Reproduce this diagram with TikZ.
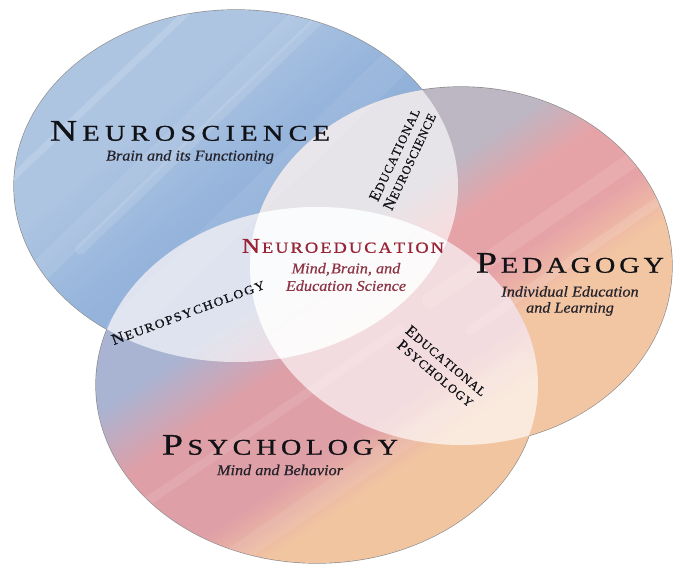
\documentclass[tikz,border=0pt]{standalone}
\usepackage{graphicx}
\usepackage{fontspec}
\setmainfont{Liberation Serif}
\newfontfamily\ttlfont{Liberation Serif}[FakeBold=0.9]
\newfontfamily\subfont{Liberation Serif Italic}[FakeBold=0.5]
\newfontfamily\lblfont{Liberation Serif}[FakeBold=0.7]
\definecolor{titlecol}{HTML}{111216}
\definecolor{subcol}{HTML}{24232B}
\definecolor{redtitle}{HTML}{982436}
\definecolor{redsub}{HTML}{8C3444}
\definecolor{nb1}{HTML}{AEC5E2}
\definecolor{nb2}{HTML}{98B6DC}
\definecolor{nb3}{HTML}{8DADD7}
\definecolor{pg}{HTML}{BDB6C3}
\definecolor{pp}{HTML}{E6A3A7}
\definecolor{po}{HTML}{F3C6A3}
\definecolor{sb}{HTML}{A9B4D3}
\definecolor{sp}{HTML}{DF9FA7}
\definecolor{so}{HTML}{F2C5A1}
\pgfdeclareverticalshading{nshade}{100bp}{color(0bp)=(nb3); color(40bp)=(nb3); color(52bp)=(nb2); color(64bp)=(nb1); color(100bp)=(nb1)}
\pgfdeclareverticalshading{pshade}{100bp}{color(0bp)=(po); color(40bp)=(po); color(47bp)=(pp); color(55bp)=(pp); color(62bp)=(pg); color(100bp)=(pg)}
\pgfdeclareverticalshading{sshade}{100bp}{color(0bp)=(so); color(35bp)=(so); color(42bp)=(sp); color(54bp)=(sp); color(63bp)=(sb); color(100bp)=(sb)}
\makeatletter
\newcommand\lsp[2]{\@tfor\lspx:=#2\do{\lspx\kern#1}\kern-#1}
\makeatother
\newcommand\wide[2]{\scalebox{#1}[1]{#2}}
% fake small caps: #1 big size, #2 small size, #3 first letter, #4 rest, #5 letter spacing
\newcommand\fsc[5]{{\fontsize{#1}{#1}\selectfont #3}\kern#5{\fontsize{#2}{#2}\selectfont\lsp{#5}{#4}}}
\begin{document}
\begin{tikzpicture}[x=1pt,y=1pt,
  Nell/.style={insert path={(236,-186) ellipse [x radius=222, y radius=176]}},
  Pell/.style={insert path={(461,-266) ellipse [x radius=211, y radius=179]}},
  Sell/.style={insert path={(317,-385) ellipse [x radius=221, y radius=178]}},
  lens/.style={fill=white, fill opacity=0.64},
  streak/.style={line cap=round, draw=white},
  title/.style={inner sep=0pt, text=titlecol, font=\ttlfont},
  midtitle/.style={inner sep=0pt, text=redtitle, font=\ttlfont},
  subt/.style={inner sep=0pt, text=subcol, align=center, font=\subfont\fontsize{15}{16}\selectfont},
  midsub/.style={inner sep=0pt, text=redsub, align=center, font=\subfont\fontsize{15}{17.5}\selectfont},
  small/.style={inner sep=0pt, text=titlecol, align=center, font=\lblfont\fontsize{12.5}{16.5}\selectfont}
  ]
\useasboundingbox (0,0) rectangle (675,-565);
% faint outer edge
\draw[line width=1.3pt, draw=black!45, Nell, Pell, Sell];
% circle fills
\shade[shading=nshade, shading angle=40, Nell];
\shade[shading=pshade, shading angle=34, Pell];
\shade[shading=sshade, shading angle=34, Sell];
% watercolour streaks
\begin{scope}
  \clip[Nell];
  \draw[streak, line width=22, draw opacity=0.09] (20,-290) -- (330,10);
  \draw[streak, line width=10, draw opacity=0.12] (80,-250) -- (360,20);
  \draw[streak, line width=30, draw opacity=0.06] (120,-330) -- (460,0);
  \draw[streak, line width=7, draw opacity=0.14] (10,-180) -- (200,0);
\end{scope}
\begin{scope}
  \clip[Pell];
  \draw[streak, line width=16, draw opacity=0.09] (430,-300) -- (690,-120);
  \draw[streak, line width=9, draw opacity=0.12] (470,-330) -- (690,-180);
\end{scope}
\begin{scope}
  \clip[Sell];
  \draw[streak, line width=20, draw opacity=0.08] (200,-580) -- (520,-360);
  \draw[streak, line width=9, draw opacity=0.10] (120,-520) -- (400,-330);
\end{scope}
% whitened overlaps
\begin{scope}
  \clip[Nell];
  \fill[lens, Pell];
\end{scope}
\begin{scope}
  \clip[Nell];
  \fill[lens, Sell];
\end{scope}
\begin{scope}
  \clip[Pell];
  \fill[lens, Sell];
\end{scope}
% labels
\node[title] (neuro) at (190,-131) {\wide{1.25}{\fsc{30}{22.5}{N}{EUROSCIENCE}{4.3pt}}};
\node[subt] (neurosub) at (190,-157) {\wide{1.08}{Brain and its Functioning}};
\node[midtitle] (neuroedu) at (343,-246) {\wide{1.18}{\fsc{21}{15.5}{N}{EUROEDUCATION}{1.8pt}}};
\node[midsub] (neuroedusub) at (346,-277) {\wide{1.08}{Mind,\kern1pt Brain, and}\\\wide{1.08}{Education Science}};
\node[title] (ped) at (570,-263) {\wide{1.25}{\fsc{30}{22.5}{P}{EDAGOGY}{3.2pt}}};
\node[subt] (pedsub) at (570,-301) {\wide{1.08}{Individual Education}\\\wide{1.08}{and Learning}};
\node[title] (psy) at (280,-445) {\wide{1.25}{\fsc{30}{22.5}{P}{SYCHOLOGY}{3.7pt}}};
\node[subt] (psysub) at (280,-470) {\wide{1.08}{Mind and Behavior}};
\node[small, rotate=20.5] (np) at (188,-312) {\wide{1.1}{\fsc{15.5}{12.5}{N}{EUROPSYCHOLOGY}{1.3pt}}};
\node[small, rotate=65] (en) at (402,-158) {\fsc{15.5}{12.5}{E}{DUCATIONAL}{0.9pt}\\\fsc{15.5}{12.5}{N}{EUROSCIENCE}{0.7pt}};
\node[small, rotate=-40] (ep) at (441,-367) {\fsc{15.5}{12.5}{E}{DUCATIONAL}{0.9pt}\\\fsc{15.5}{12.5}{P}{SYCHOLOGY}{1pt}};
\end{tikzpicture}
\end{document}
